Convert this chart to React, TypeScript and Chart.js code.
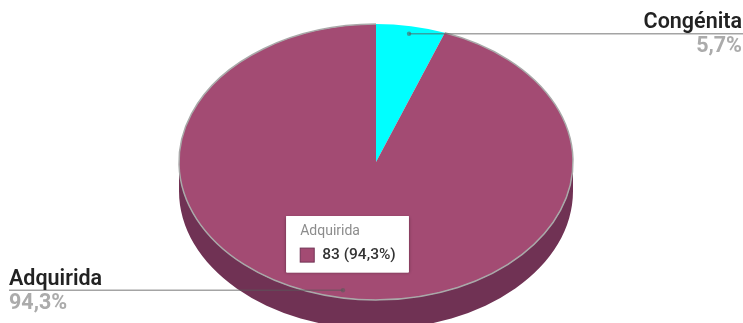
import React, { useEffect, useRef } from "react";
import { Chart, registerables, Tooltip } from "chart.js";

Chart.register(...registerables);

const categories = ["Congénita", "Adquirida"];
const cases = [5, 83];
const shareLabels = ["5,7%", "94,3%"];
const sliceColors = ["#00FFFF", "#A34B73"];
const wallColor = "#703254";
const rimColor = "#A9A9A9";
const tiltRatio = 0.7;
const wallDepth = 29;
const anchorRadius = 0.945;
const highlightedIndex = 1;
// The canvas is taller than the visible frame; the pie's top and bottom overflow it.
const canvasHeight = 394;
const frameHeight = 323;
const canvasShift = 35;

// Fixed tooltip location, independent of the hover position.
(Tooltip.positioners as any).pinned = () => ({ x: 347.5, y: 216 + canvasShift });

// Squashes the circular pie into an ellipse and extrudes a side wall below it.
const tiltedPie = {
  id: "tiltedPie",
  beforeDatasetDraw(chart: any) {
    const { ctx } = chart;
    const arc = chart.getDatasetMeta(0).data[0];
    const { x, y, outerRadius: r } = arc.getProps(["x", "y", "outerRadius"], true);
    const ry = r * tiltRatio;
    ctx.save();
    ctx.fillStyle = wallColor;
    ctx.beginPath();
    ctx.ellipse(x, y, r, ry, 0, 0, Math.PI);
    ctx.ellipse(x, y + wallDepth, r, ry, 0, Math.PI, 0, true);
    ctx.closePath();
    ctx.fill();
    ctx.restore();
    ctx.save();
    ctx.translate(0, y);
    ctx.scale(1, tiltRatio);
    ctx.translate(0, -y);
  },
  afterDatasetDraw(chart: any) {
    const { ctx } = chart;
    ctx.restore();
    const arc = chart.getDatasetMeta(0).data[highlightedIndex];
    const { x, y, outerRadius: r, startAngle, endAngle } = arc.getProps(
      ["x", "y", "outerRadius", "startAngle", "endAngle"],
      true
    );
    ctx.save();
    ctx.strokeStyle = rimColor;
    ctx.lineWidth = 1.5;
    ctx.beginPath();
    ctx.ellipse(x, y, r, r * tiltRatio, 0, startAngle, endAngle);
    ctx.stroke();
    ctx.restore();
  },
};

// Leader lines with the category name above and its share below.
const calloutLabels = {
  id: "calloutLabels",
  afterDatasetsDraw(chart: any) {
    const { ctx, width } = chart;
    chart.getDatasetMeta(0).data.forEach((arc: any, i: number) => {
      const { x, y, outerRadius: r, startAngle, endAngle } = arc.getProps(
        ["x", "y", "outerRadius", "startAngle", "endAngle"],
        true
      );
      const mid = (startAngle + endAngle) / 2;
      const ax = x + Math.cos(mid) * r * anchorRadius;
      const ay = y + Math.sin(mid) * r * tiltRatio * anchorRadius;
      const onRight = Math.cos(mid) > 0;
      const lineEnd = onRight ? width : 9;
      const textX = onRight ? width - 1 : 9;
      ctx.save();
      ctx.strokeStyle = "rgba(90,90,90,0.55)";
      ctx.fillStyle = "rgba(90,90,90,0.6)";
      ctx.lineWidth = 1.5;
      ctx.beginPath();
      ctx.moveTo(ax, ay);
      ctx.lineTo(lineEnd, ay);
      ctx.stroke();
      ctx.beginPath();
      ctx.arc(ax, ay, 2.2, 0, Math.PI * 2);
      ctx.fill();
      ctx.textAlign = onRight ? "right" : "left";
      ctx.textBaseline = "alphabetic";
      ctx.font = "600 21.5px Roboto";
      ctx.fillStyle = "#222222";
      ctx.fillText(categories[i], textX, ay - 5.5);
      ctx.font = "700 21.5px Roboto";
      ctx.fillStyle = "#ABABAB";
      ctx.fillText(shareLabels[i], textX, ay + 18.5);
      ctx.restore();
    });
  },
};

// Soft shadow beneath the tooltip box.
const tooltipShadow = {
  id: "tooltipShadow",
  beforeTooltipDraw(chart: any, args: any) {
    const { ctx } = chart;
    const t = args.tooltip;
    ctx.save();
    ctx.shadowColor = "rgba(0,0,0,0.4)";
    ctx.shadowBlur = 3;
    ctx.shadowOffsetY = 1;
    ctx.fillStyle = "#FFFFFF";
    ctx.fillRect(t.x, t.y, t.width, t.height);
    ctx.restore();
  },
};

export default function App() {
  const canvasRef = useRef<HTMLCanvasElement>(null);

  useEffect(() => {
    document.body.style.margin = "0";
    const chart = new Chart(canvasRef.current!, {
      type: "pie",
      data: {
        labels: categories,
        datasets: [
          {
            data: cases,
            backgroundColor: sliceColors,
            borderWidth: 0,
          },
        ],
      },
      plugins: [tiltedPie, calloutLabels, tooltipShadow],
      options: {
        responsive: false,
        animation: false,
        events: [],
        layout: { padding: { left: 179, right: 170, top: 0, bottom: 0 } },
        plugins: {
          legend: { display: false },
          title: { display: false },
          tooltip: {
            enabled: true,
            position: "pinned",
            xAlign: "center",
            yAlign: "top",
            caretSize: 0,
            caretPadding: 0,
            cornerRadius: 1,
            backgroundColor: "#FFFFFF",
            borderWidth: 0,
            titleColor: "#8C8C8C",
            bodyColor: "#333333",
            titleFont: { family: "Roboto", size: 14, weight: "400" },
            bodyFont: { family: "Roboto", size: 15.5, weight: "500" },
            titleMarginBottom: 6,
            padding: { left: 14, right: 13, top: 7, bottom: 8 },
            boxWidth: 14,
            boxHeight: 14,
            boxPadding: 6,
            multiKeyBackground: sliceColors[highlightedIndex],
            callbacks: {
              title: (items: any[]) => categories[items[0].dataIndex],
              label: (item: any) => `${cases[item.dataIndex]} (${shareLabels[item.dataIndex]})`,
              labelColor: (item: any) => ({
                backgroundColor: sliceColors[item.dataIndex],
                borderColor: wallColor,
                borderWidth: 1,
              }),
            },
          },
        },
      },
    } as any);
    chart.tooltip!.setActiveElements([{ datasetIndex: 0, index: highlightedIndex }], { x: 0, y: 0 });
    chart.draw();
    return () => chart.destroy();
  }, []);

  return (
    <div style={{ width: 743, height: frameHeight, overflow: "hidden" }}>
      <canvas
        ref={canvasRef}
        width={743}
        height={canvasHeight}
        style={{ display: "block", marginTop: -canvasShift }}
      />
    </div>
  );
}
